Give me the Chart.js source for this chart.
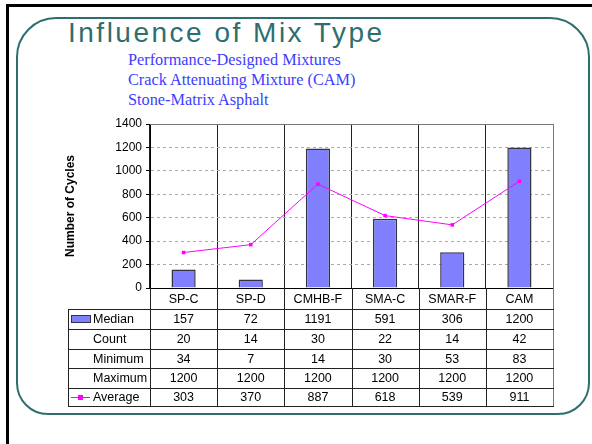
<!DOCTYPE html>
<html>
<head>
<meta charset="utf-8">
<script src="https://cdn.jsdelivr.net/npm/chart.js@4.4.1/dist/chart.umd.min.js"></script>
<style>
  html, body { margin: 0; padding: 0; background: #fff; }
  #wrap { position: relative; width: 592px; height: 444px; overflow: hidden; }
  #frame { position: absolute; left: 6px; top: 4px; width: 600px; height: 460px; border-left: 3px solid #000; border-top: 3px solid #000; }
  #panel { position: absolute; left: 16px; top: 17px; width: 570px; height: 394px; border: 2px solid #2f6e6e; border-radius: 40px 40px 32px 32px; }
  #title { position: absolute; left: 68px; top: 17px; font: 28px "Liberation Sans", Arial, sans-serif; letter-spacing: 2.5px; color: #2f6e6e; white-space: nowrap; }
  #sub { position: absolute; left: 128px; top: 50px; font: 16.3px "Liberation Serif", "Times New Roman", serif; color: #3c3cff; line-height: 20px; white-space: nowrap; }
  canvas { position: absolute; left: 0; top: 0; }
</style>
</head>
<body>
<div id="wrap">
  <div id="frame"></div>
  <div id="panel"></div>
  <div id="title">Influence of Mix Type</div>
  <div id="sub">Performance-Designed Mixtures<br>Crack Attenuating Mixture (CAM)<br>Stone-Matrix Asphalt</div>
  <canvas id="myChart" width="592" height="444"></canvas>
</div>
<script>
// values
let categories = ['SP-C', 'SP-D', 'CMHB-F', 'SMA-C', 'SMAR-F', 'CAM'];
let median = [157, 72, 1191, 591, 306, 1200];
let count = [20, 14, 30, 22, 14, 42];
let minimum = [34, 7, 14, 30, 53, 83];
let maximum = [1200, 1200, 1200, 1200, 1200, 1200];
let average = [303, 370, 887, 618, 539, 911];
let rowLabels = ['Median', 'Count', 'Minimum', 'Maximum', 'Average'];

let font = '"Liberation Sans", Arial, sans-serif';
let barColor = '#8080ff';
let barEdge = '#333344';
let lineColor = '#ff00ff';

// table rows under the plot (header row + 5 data rows)
let rowEdges = [288, 309, 329, 349, 368, 388, 406];
let tableLeft = 68;

const tablePlugin = {
    id: 'dataTable',
    afterDraw(c) {
        const ctx = c.ctx;
        const area = c.chartArea;
        const w = (area.right - area.left) / categories.length;
        const bottom = rowEdges[rowEdges.length - 1];
        const rows = [median, count, minimum, maximum, average];
        ctx.save();
        // plot frame top / right
        ctx.strokeStyle = '#777';
        ctx.lineWidth = 1;
        ctx.beginPath();
        ctx.moveTo(area.left, Math.round(area.top) + 0.5);
        ctx.lineTo(area.right, Math.round(area.top) + 0.5);
        ctx.moveTo(Math.round(area.right) + 0.5, area.top);
        ctx.lineTo(Math.round(area.right) + 0.5, bottom);
        ctx.stroke();
        // vertical lines through the table
        ctx.strokeStyle = '#222';
        ctx.beginPath();
        for (let i = 0; i < categories.length; i++) {
            let x = Math.round(area.left + i * w) + 0.5;
            ctx.moveTo(x, area.bottom);
            ctx.lineTo(x, bottom);
        }
        ctx.moveTo(tableLeft + 0.5, rowEdges[1]);
        ctx.lineTo(tableLeft + 0.5, bottom);
        // horizontal lines
        for (let r = 1; r < rowEdges.length; r++) {
            ctx.moveTo(tableLeft, rowEdges[r] + 0.5);
            ctx.lineTo(area.right + 1, rowEdges[r] + 0.5);
        }
        ctx.stroke();
        // text
        ctx.fillStyle = '#000';
        ctx.font = '12.5px ' + font;
        ctx.textBaseline = 'middle';
        ctx.textAlign = 'center';
        for (let i = 0; i < categories.length; i++) {
            let cx = area.left + (i + 0.5) * w;
            ctx.fillText(categories[i], cx, (rowEdges[0] + rowEdges[1]) / 2 + 1);
            for (let r = 0; r < rows.length; r++) {
                ctx.fillText(String(rows[r][i]), cx, (rowEdges[r + 1] + rowEdges[r + 2]) / 2 + 1);
            }
        }
        ctx.textAlign = 'left';
        for (let r = 0; r < rowLabels.length; r++) {
            ctx.fillText(rowLabels[r], 93, (rowEdges[r + 1] + rowEdges[r + 2]) / 2 + 1);
        }
        // legend keys
        let my = (rowEdges[1] + rowEdges[2]) / 2;
        ctx.fillStyle = barColor;
        ctx.fillRect(71.5, my - 3.5, 19, 7);
        ctx.strokeStyle = barEdge;
        ctx.strokeRect(71.5, my - 3.5, 19, 7);
        let ay = Math.round((rowEdges[5] + rowEdges[6]) / 2) + 0.5;
        ctx.strokeStyle = lineColor;
        ctx.beginPath();
        ctx.moveTo(71, ay);
        ctx.lineTo(90, ay);
        ctx.stroke();
        ctx.fillStyle = lineColor;
        ctx.fillRect(78, ay - 2.5, 5, 5);
        ctx.restore();
    }
};

chart = new Chart('myChart', {
    type: 'bar',
    data: {
        labels: categories,
        datasets: [{
            type: 'line',
            label: 'Average',
            data: average,
            borderColor: lineColor,
            borderWidth: 1,
            pointStyle: 'rect',
            pointRadius: 2.5,
            pointBackgroundColor: lineColor,
            pointBorderWidth: 0,
            order: 0
        }, {
            label: 'Median',
            data: median,
            backgroundColor: barColor,
            borderColor: barEdge,
            borderWidth: 1.5,
            barPercentage: 0.36,
            categoryPercentage: 1,
            order: 1
        }]
    },
    options: {
        responsive: false,
        animation: false,
        layout: { padding: { left: 59, top: 124, right: 39, bottom: 156 } },
        plugins: { legend: { display: false }, tooltip: { enabled: false } },
        scales: {
            x: {
                ticks: { display: false },
                grid: { color: '#222', drawTicks: false },
                border: { color: '#000', width: 1 },
                afterFit(scale) { scale.height = 0; }
            },
            y: {
                min: 0,
                max: 1400,
                ticks: {
                    stepSize: 200, color: '#000', font: { family: font, size: 12 }, padding: 4,
                    callback: function(v) { return String(v); }
                },
                grid: { color: '#aaa', tickColor: '#000', tickLength: 4, tickBorderDash: [] },
                border: { color: '#000', width: 1, dash: [3, 3] },
                title: { display: true, text: 'Number of Cycles', color: '#000', font: { family: font, size: 12, weight: 'bold' } },
                afterFit(scale) { scale.width = 91; }
            }
        }
    },
    plugins: [tablePlugin]
});
</script>
</body>
</html>
